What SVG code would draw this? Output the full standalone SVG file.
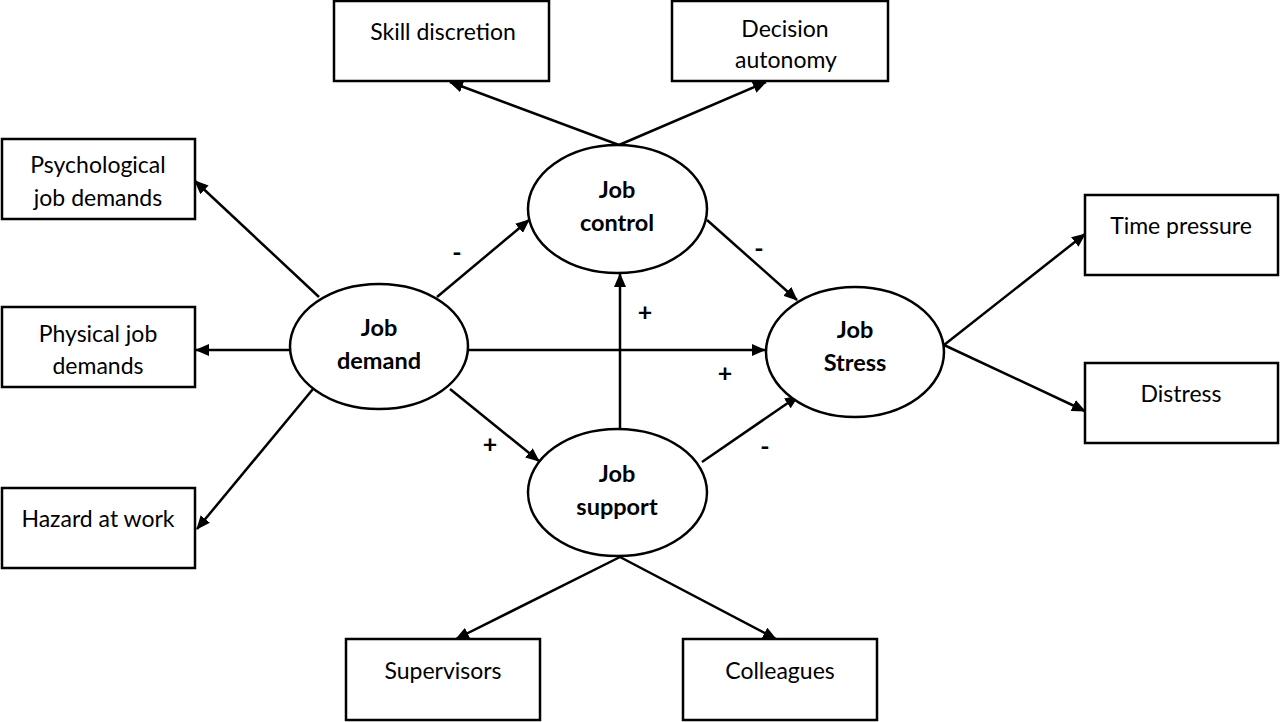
<svg xmlns="http://www.w3.org/2000/svg" width="1280" height="722" viewBox="0 0 1280 722">
<style>
.box{fill:#fff;stroke:#000;stroke-width:2.5}
.ell{fill:#fff;stroke:#000;stroke-width:2.5}
.t{font-family:Lato,"Open Sans","Liberation Sans",sans-serif;font-size:23px;fill:#000;text-anchor:middle}
.b{font-family:Lato,"Open Sans","Liberation Sans",sans-serif;font-size:23.5px;font-weight:bold;fill:#000;text-anchor:middle}
.c line{stroke:#000;stroke-width:2.5;marker-end:url(#ah)}
.s{font-family:Lato,"Open Sans","Liberation Sans",sans-serif;font-size:25px;font-weight:bold;fill:#000;text-anchor:middle}
</style>
<defs>
<marker id="ah" markerUnits="userSpaceOnUse" markerWidth="14" markerHeight="12" refX="13" refY="6" orient="auto">
<path d="M0,0 L14,6 L0,12 z" fill="#000"/>
</marker>
</defs>
<rect width="1280" height="722" fill="#fff"/>
<g class="c" id="connectors">
<line x1="619" y1="145" x2="450" y2="82"/>
<line x1="619" y1="145" x2="766" y2="82"/>
<line x1="319" y1="297" x2="195" y2="181"/>
<line x1="290" y1="350" x2="196" y2="350"/>
<line x1="313" y1="389" x2="197" y2="529"/>
<line x1="437" y1="297" x2="529" y2="220"/>
<line x1="468" y1="350" x2="765" y2="350"/>
<line x1="450" y1="389" x2="539" y2="461"/>
<line x1="620" y1="429" x2="620" y2="274"/>
<line x1="702" y1="462" x2="798" y2="396"/>
<line x1="707" y1="220" x2="797" y2="300"/>
<line x1="944" y1="345" x2="1085" y2="234"/>
<line x1="944" y1="345" x2="1085" y2="411"/>
<line x1="620" y1="557" x2="456" y2="639"/>
<line x1="620" y1="557" x2="776" y2="639"/>
</g>
<g id="n-skill"><rect class="box" x="334" y="1" width="215" height="80"/><text class="t" x="443" y="40">Skill discretion</text></g>
<g id="n-decision"><rect class="box" x="672" y="1" width="216" height="80"/><text class="t" x="785" y="37">Decision</text><text class="t" x="786" y="68">autonomy</text></g>
<g id="n-psych"><rect class="box" x="2" y="139" width="193" height="80"/><text class="t" x="98" y="173">Psychological</text><text class="t" x="98" y="206">job demands</text></g>
<g id="n-phys"><rect class="box" x="2" y="307" width="193" height="80"/><text class="t" x="98" y="342">Physical job</text><text class="t" x="98" y="374">demands</text></g>
<g id="n-hazard"><rect class="box" x="2" y="488" width="193" height="80"/><text class="t" x="98" y="527">Hazard at work</text></g>
<g id="n-time"><rect class="box" x="1085" y="195" width="193" height="80"/><text class="t" x="1181" y="234">Time pressure</text></g>
<g id="n-distress"><rect class="box" x="1085" y="363" width="193" height="80"/><text class="t" x="1181" y="402">Distress</text></g>
<g id="n-super"><rect class="box" x="346" y="639" width="194" height="81"/><text class="t" x="443" y="679">Supervisors</text></g>
<g id="n-coll"><rect class="box" x="683" y="639" width="194" height="81"/><text class="t" x="780" y="679">Colleagues</text></g>
<g id="n-control"><ellipse class="ell" cx="617.5" cy="209" rx="89.5" ry="64"/><text class="b" x="617" y="198">Job</text><text class="b" x="617" y="231">control</text></g>
<g id="n-demand"><ellipse class="ell" cx="379" cy="346.5" rx="89" ry="62.5"/><text class="b" x="379" y="336">Job</text><text class="b" x="379" y="369">demand</text></g>
<g id="n-stress"><ellipse class="ell" cx="855" cy="352" rx="89" ry="65"/><text class="b" x="855" y="338">Job</text><text class="b" x="855" y="371">Stress</text></g>
<g id="n-support"><ellipse class="ell" cx="617.5" cy="492.5" rx="89.5" ry="63.5"/><text class="b" x="617" y="482">Job</text><text class="b" x="617" y="515">support</text></g>
<g id="signs">
<text class="s" x="457" y="261">-</text>
<text class="s" x="759" y="257">-</text>
<text class="s" x="645" y="321">+</text>
<text class="s" x="725" y="382">+</text>
<text class="s" x="490" y="453">+</text>
<text class="s" x="765" y="455">-</text>
</g>
</svg>
